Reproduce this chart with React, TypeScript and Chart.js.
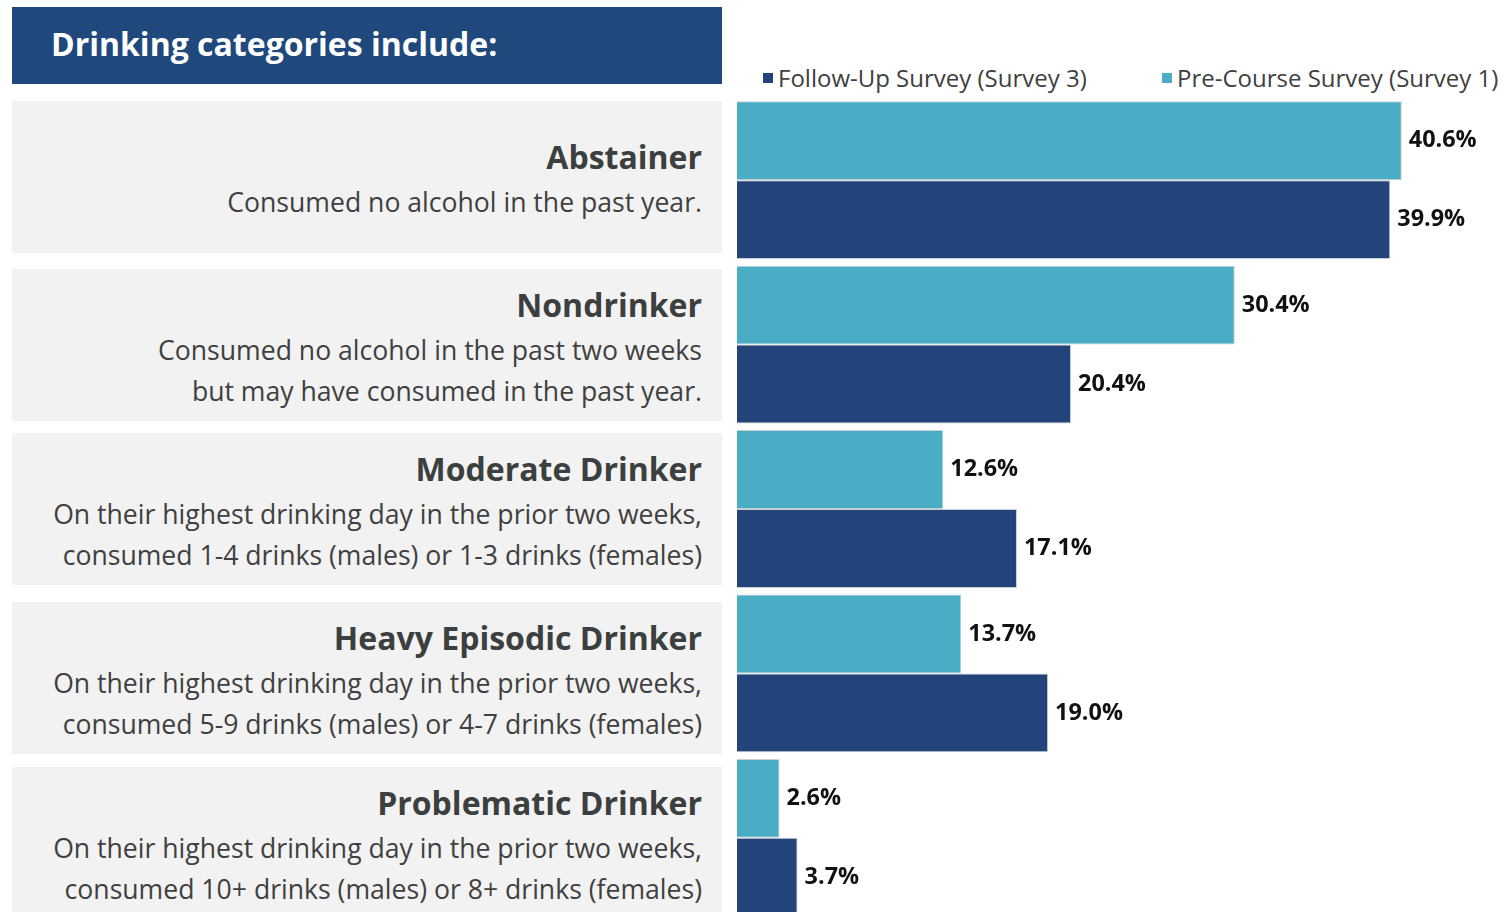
import React, { useEffect, useRef } from "react";
import { Chart, registerables } from "chart.js";

Chart.register(...registerables);

const categories = [
  "Abstainer",
  "Nondrinker",
  "Moderate Drinker",
  "Heavy Episodic Drinker",
  "Problematic Drinker",
];

const descriptions = [
  ["Consumed no alcohol in the past year."],
  ["Consumed no alcohol in the past two weeks", "but may have consumed in the past year."],
  ["On their highest drinking day in the prior two weeks,", "consumed 1-4 drinks (males) or 1-3 drinks (females)"],
  ["On their highest drinking day in the prior two weeks,", "consumed 5-9 drinks (males) or 4-7 drinks (females)"],
  ["On their highest drinking day in the prior two weeks,", "consumed 10+ drinks (males) or 8+ drinks (females)"],
];

const preCourse = [40.6, 30.4, 12.6, 13.7, 2.6];
const followUp = [39.9, 20.4, 17.1, 19.0, 3.7];

const seriesNames = ["Pre-Course Survey (Survey 1)", "Follow-Up Survey (Survey 3)"];
const seriesColors = ["#4BACC6", "#23447A"];

const headerTitle = "Drinking categories include:";

const panelTops = [101, 269, 433, 602, 767];

const FONT = '"Open Sans", "Noto Sans", sans-serif';

const valueLabels = {
  id: "valueLabels",
  afterDatasetsDraw(chart: any) {
    const ctx = chart.ctx;
    ctx.save();
    ctx.font = `bold 23.4px ${FONT}`;
    ctx.fillStyle = "#111111";
    ctx.textBaseline = "middle";
    ctx.textAlign = "left";
    chart.data.datasets.forEach((ds: any, di: number) => {
      const meta = chart.getDatasetMeta(di);
      meta.data.forEach((bar: any, i: number) => {
        ctx.fillText(`${Number(ds.data[i]).toFixed(1)}%`, bar.x + 7, bar.y);
      });
    });
    ctx.restore();
  },
};

function BarChart() {
  const ref = useRef<HTMLCanvasElement | null>(null);
  useEffect(() => {
    if (!ref.current) return;
    const chart = new Chart(ref.current, {
      type: "bar",
      data: {
        labels: categories,
        datasets: [
          {
            label: seriesNames[0],
            data: preCourse,
            backgroundColor: seriesColors[0],
            borderColor: "#C9CED3",
            borderWidth: 1,
            categoryPercentage: 0.96,
            barPercentage: 1,
          },
          {
            label: seriesNames[1],
            data: followUp,
            backgroundColor: seriesColors[1],
            borderColor: "#C9CED3",
            borderWidth: 1,
            categoryPercentage: 0.96,
            barPercentage: 1,
          },
        ],
      },
      options: {
        indexAxis: "y",
        animation: false,
        responsive: false,
        maintainAspectRatio: false,
        layout: { padding: { left: 7, right: 4, top: 8, bottom: 10 } },
        plugins: {
          legend: { display: false },
          tooltip: { enabled: false },
        },
        scales: {
          x: { display: false, min: 0, max: 46.6, grid: { display: false } },
          y: { display: false, grid: { display: false } },
        },
      } as any,
      plugins: [valueLabels],
    });
    return () => chart.destroy();
  }, []);
  return (
    <canvas
      ref={ref}
      width={774}
      height={840}
      style={{ position: "absolute", left: 730, top: 90, width: 774, height: 840 }}
    />
  );
}

export default function App() {
  const legendItems = [
    { name: seriesNames[1], color: seriesColors[1], left: 763, textLeft: 778 },
    { name: seriesNames[0], color: seriesColors[0], left: 1162, textLeft: 1177 },
  ];
  return (
    <div
      style={{
        position: "fixed",
        left: 0,
        top: 0,
        width: 1504,
        height: 912,
        overflow: "hidden",
        background: "#ffffff",
        fontFamily: FONT,
      }}
    >
      <div
        style={{
          position: "absolute",
          left: 12,
          top: 7,
          width: 710,
          height: 77,
          background: "#1F497D",
          color: "#ffffff",
          fontWeight: 700,
          fontSize: 32,
          lineHeight: "74px",
          paddingLeft: 39,
          boxSizing: "border-box",
          whiteSpace: "nowrap",
        }}
      >
        {headerTitle}
      </div>
      {categories.map((c, i) => (
        <div
          key={c}
          style={{
            position: "absolute",
            left: 12,
            top: panelTops[i],
            width: 710,
            height: 152,
            background: "#F2F2F2",
            display: "flex",
            flexDirection: "column",
            justifyContent: "center",
            alignItems: "flex-end",
            paddingRight: 20,
            boxSizing: "border-box",
            textAlign: "right",
          }}
        >
          <div style={{ fontWeight: 700, fontSize: 32, lineHeight: "51px", color: "#3B403F", whiteSpace: "nowrap" }}>{c}</div>
          {descriptions[i].map((d) => (
            <div key={d} style={{ fontSize: 26.6, lineHeight: "41px", color: "#404040", whiteSpace: "nowrap" }}>
              {d}
            </div>
          ))}
        </div>
      ))}
      {legendItems.map((it) => (
        <React.Fragment key={it.name}>
          <div
            style={{
              position: "absolute",
              left: it.left,
              top: 73,
              width: 10,
              height: 10,
              background: it.color,
            }}
          />
          <div
            style={{
              position: "absolute",
              left: it.textLeft,
              top: 62,
              fontSize: 24,
              lineHeight: "32px",
              color: "#404040",
              whiteSpace: "nowrap",
            }}
          >
            {it.name}
          </div>
        </React.Fragment>
      ))}
      <BarChart />
    </div>
  );
}
